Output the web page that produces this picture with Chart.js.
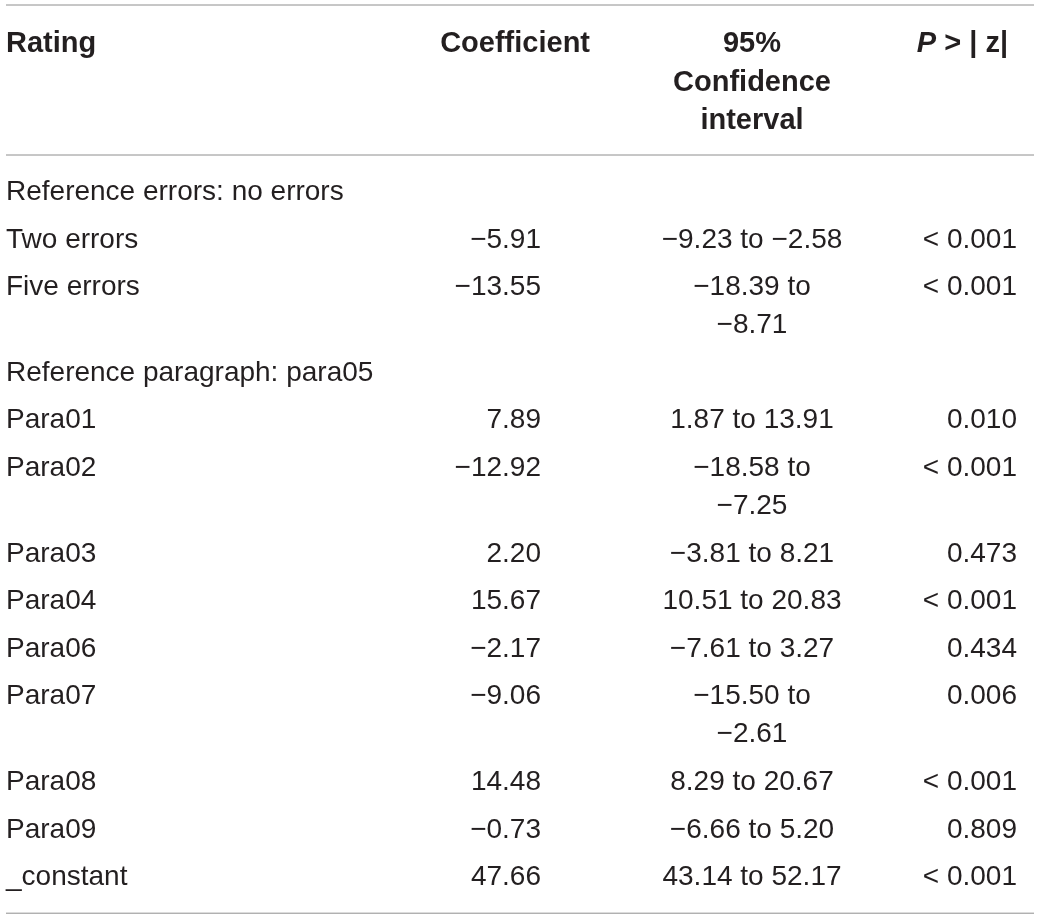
<!DOCTYPE html>
<html>
<head>
<meta charset="utf-8">
<script src="https://cdn.jsdelivr.net/npm/chart.js@4.4.0/dist/chart.umd.min.js"></script>
<style>
html, body { margin: 0; padding: 0; background: #fff; }
#wrap { width: 1040px; height: 919px; position: relative; }
</style>
</head>
<body>
<div id="wrap"><canvas id="table"></canvas></div>
<script>
// table contents
var headers = [['Rating'], ['Coefficient'], ['95%', 'Confidence', 'interval'], ['P > | z|']];
var ratings = ['Reference errors: no errors', 'Two errors', 'Five errors', 'Reference paragraph: para05',
    'Para01', 'Para02', 'Para03', 'Para04', 'Para06', 'Para07', 'Para08', 'Para09', '_constant'];
var coefficients = [null, -5.91, -13.55, null, 7.89, -12.92, 2.20, 15.67, -2.17, -9.06, 14.48, -0.73, 47.66];
var ciLower = [null, -9.23, -18.39, null, 1.87, -18.58, -3.81, 10.51, -7.61, -15.50, 8.29, -6.66, 43.14];
var ciUpper = [null, -2.58, -8.71, null, 13.91, -7.25, 8.21, 20.83, 3.27, -2.61, 20.67, 5.20, 52.17];
var pValues = ['', '< 0.001', '< 0.001', '', '0.010', '< 0.001', '0.473', '< 0.001', '0.434', '0.006', '< 0.001', '0.809', '< 0.001'];

// layout
var W = 1040, H = 919;
var ruleLeft = 6, ruleRight = 1034, topRule = 5;
var headBase = 52, headPitch = 38.5;
var rowPitch = 47.6, wrapPitch = 38;
var ciMaxWidth = 190;
var colX = [6, 541, 752, 1017];
var headX = [6, 590, 752, 1008];
var colAlign = ['left', 'right', 'center', 'right'];
var bodyFont = '28px "Liberation Sans", Arial, sans-serif';
var headFont = 'bold 29px "Liberation Sans", Arial, sans-serif';
var ink = '#231f20';
var ruleColor = '#8e8e8e';

function fmt(v) {
    return (v < 0 ? '\u2212' : '') + Math.abs(v).toFixed(2);
}

// wrap the interval text the same way the narrow column does
var measure = document.createElement('canvas').getContext('2d');
measure.font = bodyFont;
var ciLines = ciLower.map(function(lo, i) {
    if (lo === null) return [];
    var one = fmt(lo) + ' to ' + fmt(ciUpper[i]);
    if (measure.measureText(one).width <= ciMaxWidth) return [one];
    return [fmt(lo) + ' to', fmt(ciUpper[i])];
});

var headRule = headBase + 2 * headPitch + 26;
var baselines = [];
var y = headRule + 45;
ratings.forEach(function(r, i) {
    baselines.push(y);
    y += rowPitch + (Math.max(1, ciLines[i].length) - 1) * wrapPitch;
});
var lastIdx = ratings.length - 1;
var bottomRule = baselines[lastIdx] + (Math.max(1, ciLines[lastIdx].length) - 1) * wrapPitch + 28;

function textSet(points, align, font) {
    return {
        type: 'scatter', data: points, pointRadius: 0, pointHoverRadius: 0,
        textAlign: align, textFont: font
    };
}

function ruleSet(yv) {
    return {
        type: 'line', data: [{x: ruleLeft, y: yv}, {x: ruleRight, y: yv}],
        borderColor: ruleColor, borderWidth: 1, pointRadius: 0, fill: false
    };
}

var datasets = [ruleSet(topRule), ruleSet(headRule), ruleSet(bottomRule)];

headers.forEach(function(lines, c) {
    datasets.push(textSet(lines.map(function(t, k) {
        return {x: headX[c], y: headBase + k * headPitch, label: t};
    }), colAlign[c], headFont));
});

datasets.push(textSet(ratings.map(function(t, i) {
    return {x: colX[0], y: baselines[i], label: t};
}), 'left', bodyFont));

datasets.push(textSet(coefficients.map(function(v, i) {
    return {x: colX[1], y: baselines[i], label: v === null ? '' : fmt(v)};
}), 'right', bodyFont));

var ciPoints = [];
ciLines.forEach(function(lines, i) {
    lines.forEach(function(t, k) {
        ciPoints.push({x: colX[2], y: baselines[i] + k * wrapPitch, label: t});
    });
});
datasets.push(textSet(ciPoints, 'center', bodyFont));

datasets.push(textSet(pValues.map(function(t, i) {
    return {x: colX[3], y: baselines[i], label: t};
}), 'right', bodyFont));

var cellText = {
    id: 'cellText',
    afterDatasetsDraw: function(chart) {
        var ctx = chart.ctx;
        ctx.save();
        ctx.fillStyle = ink;
        ctx.textBaseline = 'alphabetic';
        chart.data.datasets.forEach(function(ds, i) {
            if (!ds.textFont) return;
            var meta = chart.getDatasetMeta(i);
            meta.data.forEach(function(pt, j) {
                var label = ds.data[j].label;
                if (!label) return;
                ctx.font = ds.textFont;
                ctx.textAlign = ds.textAlign;
                if (label.indexOf('P ') === 0) {
                    // italic P in the last header
                    var rest = label.slice(1);
                    ctx.textAlign = 'left';
                    var restW = ctx.measureText(rest).width;
                    ctx.font = 'italic ' + ds.textFont;
                    var pW = ctx.measureText('P').width;
                    var x0 = pt.x - restW - pW;
                    ctx.fillText('P', x0, pt.y);
                    ctx.font = ds.textFont;
                    ctx.fillText(rest, x0 + pW, pt.y);
                } else {
                    ctx.fillText(label, pt.x, pt.y);
                }
            });
        });
        ctx.restore();
    }
};

var tableChart;

document.addEventListener('DOMContentLoaded', function(event) {
    var context = document.getElementById('table').getContext('2d');
    tableChart = new Chart(context, {
        type: 'scatter',
        data: { datasets: datasets },
        options: {
            responsive: true,
            maintainAspectRatio: false,
            animation: false,
            events: [],
            layout: { padding: 0 },
            plugins: { legend: { display: false }, tooltip: { enabled: false } },
            scales: {
                x: { type: 'linear', min: 0, max: W, display: false },
                y: { type: 'linear', min: 0, max: H, reverse: true, display: false }
            }
        },
        plugins: [cellText]
    });
});
</script>
</body>
</html>
